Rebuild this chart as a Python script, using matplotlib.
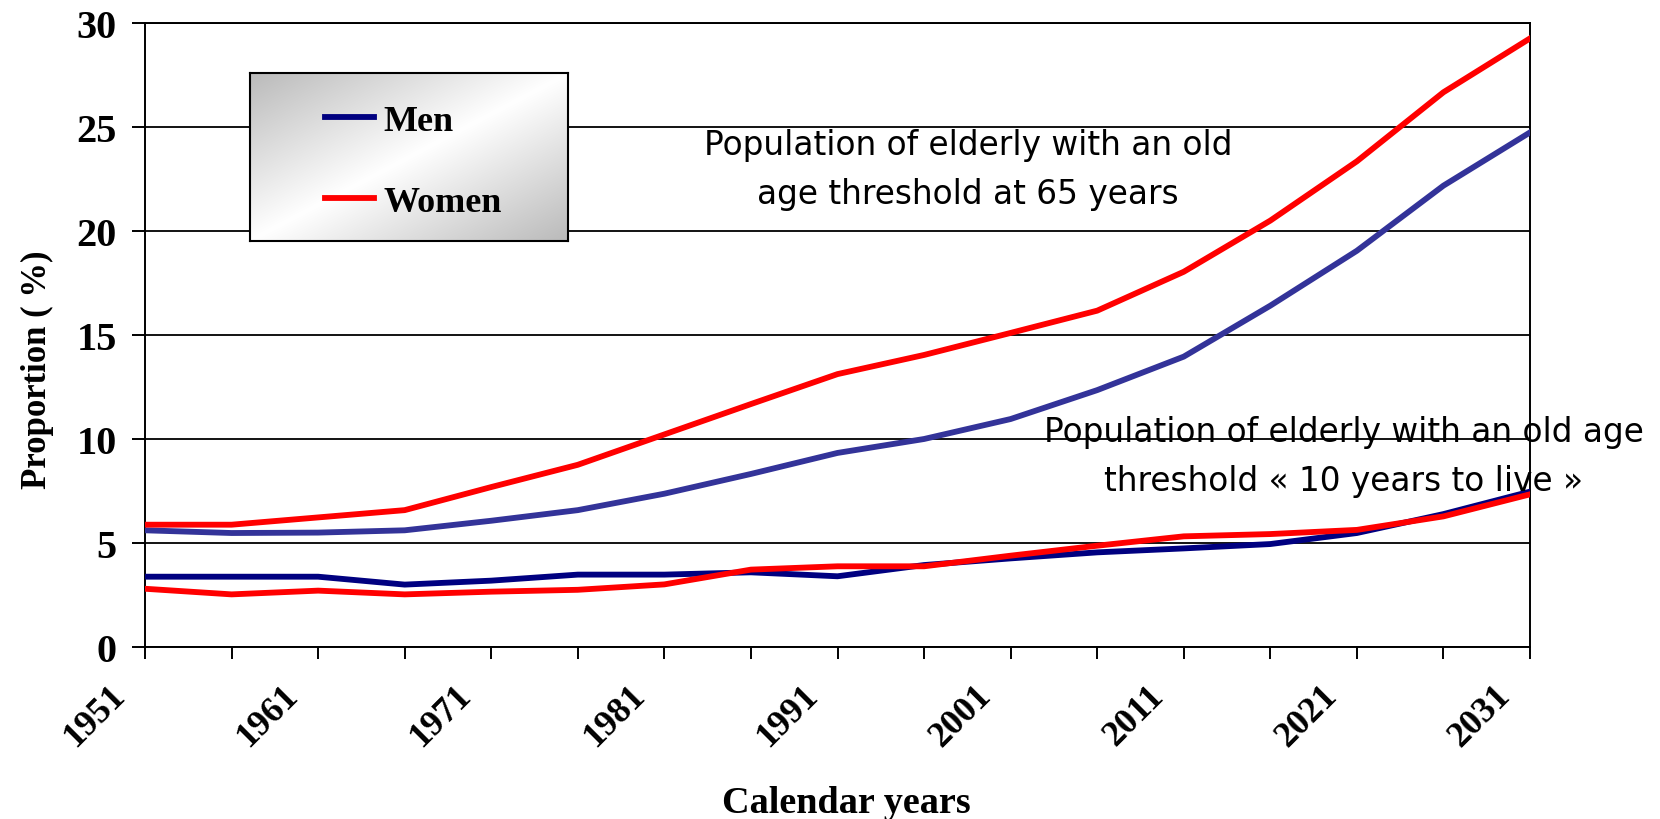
import matplotlib
matplotlib.use('Agg')
import matplotlib.pyplot as plt
import numpy as np
from matplotlib.transforms import ScaledTranslation

# ---------------- data ----------------
years = [1951, 1956, 1961, 1966, 1971, 1976, 1981, 1986, 1991,
         1996, 2001, 2006, 2011, 2016, 2021, 2026, 2031]
# threshold at 65 years
men_65 = [5.61, 5.48, 5.50, 5.61, 6.07, 6.58, 7.37, 8.32, 9.33,
          10.00, 10.96, 12.35, 13.96, 16.41, 19.05, 22.18, 24.74]
women_65 = [5.88, 5.88, 6.23, 6.58, 7.69, 8.76, 10.22, 11.68, 13.12,
            14.04, 15.10, 16.17, 18.04, 20.50, 23.35, 26.67, 29.26]
# threshold "10 years to live"
men_10yrs = [3.38, 3.38, 3.38, 3.00, 3.19, 3.48, 3.48, 3.59, 3.40,
             3.94, 4.26, 4.55, 4.74, 4.95, 5.48, 6.39, 7.47]
women_10yrs = [2.80, 2.53, 2.71, 2.53, 2.66, 2.75, 3.01, 3.72, 3.88,
               3.88, 4.39, 4.87, 5.32, 5.43, 5.63, 6.28, 7.34]

tick_years = [1951, 1961, 1971, 1981, 1991, 2001, 2011, 2021, 2031]
y_ticks = [0, 5, 10, 15, 20, 25, 30]
legend_labels = ['Men', 'Women']
note_65 = 'Population of elderly with an old\nage threshold at 65 years'
note_10 = 'Population of elderly with an old age\nthreshold \u00ab 10 years to live \u00bb'

# ---------------- figure ----------------
W, H = 1660, 820
fig = plt.figure(figsize=(W / 100, H / 100), dpi=100)


def px(x0, y0, x1, y1):
    return [x0 / W, 1 - y1 / H, (x1 - x0) / W, (y1 - y0) / H]


serif = 'Liberation Serif'
ax = fig.add_axes(px(145, 24, 1530, 648))
ax.set_xlim(1951, 2031)
ax.set_ylim(0, 30)

ax.set_yticks(y_ticks)
ax.yaxis.grid(True, color='black', linewidth=1.3)
ax.set_axisbelow(True)
for s in ax.spines.values():
    s.set_linewidth(1.4)
    s.set_color('black')

ax.set_xticks(tick_years)
ax.set_xticks(years, minor=True)

lw = 4.2
ax.plot(years, men_65, color='#333399', lw=lw, zorder=3)
ax.plot(years, women_65, color='#FF0000', lw=lw, zorder=3)
l_men, = ax.plot(years, men_10yrs, color='#000080', lw=lw, zorder=3)
l_women, = ax.plot(years, women_10yrs, color='#FF0000', lw=lw, zorder=4)

ax.tick_params(axis='x', which='both', direction='out', length=8.6, width=1.4, pad=14)
ax.tick_params(axis='y', direction='out', length=9.4, width=1.4, pad=11)
ax.set_xticklabels([str(y) for y in tick_years], rotation=45, ha='right',
                   fontsize=26, fontweight='bold', family=serif)
ax.set_yticklabels([str(v) for v in y_ticks], fontsize=29, fontweight='bold', family=serif)
offset = ScaledTranslation(-13 / 100, 0, fig.dpi_scale_trans)
for lab in ax.get_xticklabels():
    lab.set_transform(lab.get_transform() + offset)

fig.text(846 / W, 1 - 804 / H, 'Calendar years', ha='center', va='center',
         fontsize=27.5, fontweight='bold', family=serif)
fig.text(37 / W, 1 - 370 / H, 'Proportion ( %)', rotation=90, ha='center', va='center',
         fontsize=25, fontweight='bold', family=serif)

fig.text(968 / W, 1 - 170 / H, note_65, ha='center', va='center', multialignment='center',
         fontsize=23.6, family='DejaVu Sans', linespacing=1.6)
fig.text(1344 / W, 1 - 457 / H, note_10, ha='center', va='center', multialignment='center',
         fontsize=23.6, family='DejaVu Sans', linespacing=1.6)

# ---------------- legend box with gradient ----------------
lax = fig.add_axes(px(250, 74, 568, 242))
u = np.linspace(0, 1, 320)
v = np.linspace(0, 1, 170)
dist = np.abs(u[None, :] + v[:, None] - 1)
g = 1 - 0.27 * dist
img = np.dstack([g, g, g])
lax.imshow(img, extent=[0, 1, 0, 1], aspect='auto', origin='upper')
lax.set_xlim(0, 1)
lax.set_ylim(0, 1)
lax.set_xticks([])
lax.set_yticks([])
for s in lax.spines.values():
    s.set_linewidth(1.5)
    s.set_color('black')
lax.legend([l_men, l_women], legend_labels, loc='center left',
           bbox_to_anchor=((325 - 250) / 318, 0.472), frameon=False,
           borderpad=0, borderaxespad=0, handlelength=1.36, handletextpad=0.25,
           labelspacing=1.33, prop={'family': serif, 'weight': 'bold', 'size': 26})

fig.savefig('out.png', dpi=100)
